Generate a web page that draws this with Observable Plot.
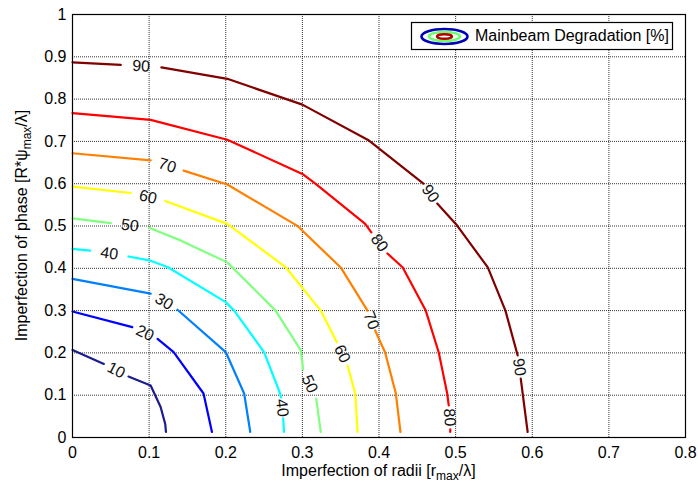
<!DOCTYPE html>
<html>
<head>
<meta charset="utf-8">
<script src="https://cdn.jsdelivr.net/npm/d3@7"></script>
<script src="https://cdn.jsdelivr.net/npm/@observablehq/plot@0.6"></script>
<style>
  html, body { margin: 0; padding: 0; background: #fff; }
  #chart { width: 698px; height: 487px; }
</style>
</head>
<body>
<div id="chart"></div>
<script>
// ---- data ----
const xTicks = [0, 0.1, 0.2, 0.3, 0.4, 0.5, 0.6, 0.7, 0.8];
const yTicks = [0, 0.1, 0.2, 0.3, 0.4, 0.5, 0.6, 0.7, 0.8, 0.9, 1];
const levels = [10, 20, 30, 40, 50, 60, 70, 80, 90];
const legendText = "Mainbeam Degradation [%]";

// contour paths [x, y]; null marks the gap where the inline label sits
const contour10 = [[0,0.207],[0.041,0.174],null,[0.073,0.144],[0.102,0.123],[0.115,0.072],[0.121,0.032],[0.122,0.013]];
const contour20 = [[0,0.298],[0.078,0.261],null,[0.111,0.233],[0.132,0.202],[0.171,0.104],[0.182,0.013]];
const contour30 = [[0,0.375],[0.102,0.340],null,[0.137,0.302],[0.200,0.202],[0.224,0.104],[0.232,0.013]];
const contour40 = [[0,0.446],[0.023,0.442],null,[0.073,0.428],[0.102,0.418],[0.124,0.403],[0.200,0.320],[0.211,0.300],[0.250,0.202],[0.271,0.104],[0.272,0.095],null,[0.275,0.045],[0.276,0.013]];
const contour50 = [[0,0.518],[0.050,0.507],null,[0.100,0.496],[0.141,0.466],[0.202,0.414],[0.265,0.300],[0.298,0.206],[0.301,0.161],null,[0.318,0.092],[0.324,0.013]];
const contour60 = [[0,0.593],[0.076,0.578],null,[0.121,0.559],[0.202,0.505],[0.278,0.403],[0.324,0.300],[0.345,0.225],null,[0.359,0.170],[0.369,0.104],[0.372,0.013]];
const contour70 = [[0,0.672],[0.102,0.655],null,[0.145,0.631],[0.202,0.598],[0.293,0.501],[0.350,0.402],[0.385,0.300],null,[0.395,0.253],[0.408,0.201],[0.422,0.104],[0.428,0.013]];
const contour80 = [[0,0.767],[0.102,0.751],[0.202,0.704],[0.300,0.623],[0.317,0.600],[0.382,0.505],[0.390,0.485],null,[0.411,0.435],[0.431,0.402],[0.461,0.300],[0.478,0.201],[0.489,0.104],[0.491,0.076],null,[0.493,0.019],[0.493,0.013]];
const contour90 = [[0,0.887],[0.063,0.881],null,[0.116,0.875],[0.202,0.848],[0.300,0.787],[0.387,0.702],[0.458,0.600],null,[0.476,0.553],[0.502,0.501],[0.542,0.402],[0.565,0.300],[0.581,0.194],null,[0.585,0.139],[0.594,0.013]];
const contours = [contour10, contour20, contour30, contour40, contour50, contour60, contour70, contour80, contour90];

// ---- styling ----
const palette = ["#1c1c8e", "#0000ff", "#0080ff", "#00ffff", "#80ff80", "#ffff00", "#ff8000", "#ff0000", "#800000"];
const W = 698, H = 487;
const M = {left: 72, right: 13, top: 14, bottom: 50};
const font = "'Liberation Sans', Arial, Helvetica, sans-serif";
const FS = 16;
const kx = (W - M.left - M.right) / 0.8;
const ky = (H - M.top - M.bottom) / 1.0;

// build line points and label positions
const pts = [];
const labels = [];
contours.forEach((c, i) => {
  const level = levels[i];
  c.forEach((p, j) => {
    if (p === null) {
      pts.push({level, x: NaN, y: NaN});
      const a = c[j - 1], b = c[j + 1];
      const dx = (b[0] - a[0]) * kx, dy = (a[1] - b[1]) * ky;
      labels.push({level, x: (a[0] + b[0]) / 2, y: (a[1] + b[1]) / 2, angle: Math.atan2(dy, dx) * 180 / Math.PI});
    } else {
      pts.push({level, x: p[0], y: p[1]});
    }
  });
});

const svg = Plot.plot({
  width: W, height: H,
  marginLeft: M.left, marginRight: M.right, marginTop: M.top, marginBottom: M.bottom,
  style: {fontFamily: font, fontSize: FS + "px", color: "#000", background: "#fff", overflow: "visible"},
  x: {domain: [0, 0.8], label: null},
  y: {domain: [0, 1], label: null},
  color: {type: "ordinal", domain: levels, range: palette},
  marks: [
    Plot.gridX(xTicks, {stroke: "#000", strokeOpacity: 0.8, strokeDasharray: "1,1", strokeWidth: 1}),
    Plot.gridY(yTicks, {stroke: "#000", strokeOpacity: 0.8, strokeDasharray: "1,1", strokeWidth: 1}),
    Plot.line(pts, {x: "x", y: "y", z: "level", stroke: "level", strokeWidth: 2.2, curve: "linear"}),
    Plot.text(labels, {x: "x", y: "y", text: d => String(d.level), rotate: "angle", fontSize: FS, fill: "#111"}),
    Plot.axisX(xTicks, {tickSize: 0, tickPadding: 9, tickFormat: d => String(d), fontSize: FS}),
    Plot.axisY(yTicks, {tickSize: 0, tickPadding: 6, tickFormat: d => String(d), fontSize: FS}),
    Plot.frame({stroke: "#000", strokeWidth: 1.2})
  ]
});
document.getElementById("chart").appendChild(svg);

// ---- axis titles with subscripts ----
const s = d3.select(svg);
const xt = s.append("text")
  .attr("x", (M.left + W - M.right) / 2).attr("y", 476)
  .attr("text-anchor", "middle").attr("font-family", font).attr("font-size", FS).attr("fill", "#000");
xt.append("tspan").text("Imperfection of radii [r");
xt.append("tspan").attr("dy", 4).attr("font-size", 12).text("max");
xt.append("tspan").attr("dy", -4).text("/λ]");

const yt = s.append("text")
  .attr("transform", `translate(27,${(M.top + H - M.bottom) / 2}) rotate(-90)`)
  .attr("text-anchor", "middle").attr("font-family", font).attr("font-size", FS).attr("fill", "#000");
yt.append("tspan").text("Imperfection of phase [R*ψ");
yt.append("tspan").attr("dy", 4).attr("font-size", 12).text("max");
yt.append("tspan").attr("dy", -4).text("/λ]");

// ---- legend box ----
const lg = s.append("g");
lg.append("rect").attr("x", 411.5).attr("y", 22.5).attr("width", 261).attr("height", 27)
  .attr("fill", "#fff").attr("stroke", "#000").attr("stroke-width", 1.2);
lg.append("ellipse").attr("cx", 444.5).attr("cy", 36.5).attr("rx", 23).attr("ry", 7.5)
  .attr("fill", "none").attr("stroke", "#0000b4").attr("stroke-width", 2.6);
lg.append("ellipse").attr("cx", 444.5).attr("cy", 36.5).attr("rx", 15.5).attr("ry", 4.5)
  .attr("fill", "none").attr("stroke", "#70ff70").attr("stroke-width", 2.6);
lg.append("ellipse").attr("cx", 444.5).attr("cy", 36.5).attr("rx", 7.5).attr("ry", 2.2)
  .attr("fill", "none").attr("stroke", "#b00000").attr("stroke-width", 2.4);
lg.append("text").attr("x", 475).attr("y", 37).attr("dominant-baseline", "middle").attr("text-anchor", "start")
  .attr("font-family", font).attr("font-size", 16).attr("fill", "#000").text(legendText);
</script>
</body>
</html>
